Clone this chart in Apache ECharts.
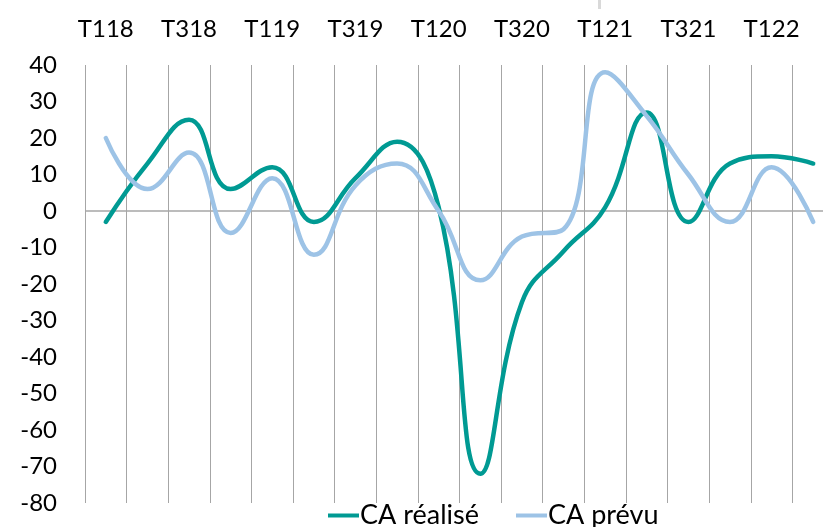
<!DOCTYPE html>
<html>
<head>
<meta charset="utf-8">
<script src="https://cdn.jsdelivr.net/npm/echarts@6/dist/echarts.min.js"></script>
<style>
  html, body { margin: 0; padding: 0; background: #fff; }
  #chart { width: 823px; height: 527px; }
</style>
</head>
<body>
<div id="chart"></div>
<script>
// trimestres (un libellé sur deux affiché)
const categories = ['T118', 'T218', 'T318', 'T418', 'T119', 'T219', 'T319', 'T419', 'T120',
  'T220', 'T320', 'T420', 'T121', 'T221', 'T321', 'T421', 'T122', 'T222']
const caRealise = [-3, 13, 25, 6, 12, -3, 9, 19, 1, -72, -25, -11, 1, 27, -3, 13, 15, 13]
const caPrevu = [20, 6, 16, -6, 9, -12, 7, 13, 0, -19, -7, -5, 38, 26, 10, -3, 12, -3]
const yMin = -80
const yMax = 40
const yStep = 10

const font = 'Lato'
const gridGray = '#A6A6A6'

const myChart = echarts.init(document.getElementById('chart'))

const option = {
  animation: false,
  textStyle: { fontFamily: font },
  // la zone de tracé dépasse à droite, comme dans l'original
  grid: { left: 85, width: 749, top: 65, bottom: 24, containLabel: false, outerBoundsMode: 'none' },
  legend: {
    left: 323,
    top: 497,
    icon: 'rect',
    itemWidth: 31,
    itemHeight: 4,
    itemGap: 37,
    textStyle: { fontFamily: font, fontSize: 27, color: '#000', padding: [0, 0, 0, -4] },
    data: ['CA réalisé', 'CA prévu']
  },
  xAxis: {
    type: 'category',
    position: 'top',
    data: categories,
    boundaryGap: true,
    axisLine: { show: false },
    axisTick: { show: false },
    axisLabel: { interval: 1, fontFamily: font, fontSize: 24, color: '#000', margin: 24 },
    splitLine: { show: true, interval: 0, lineStyle: { color: gridGray, width: 1 } }
  },
  yAxis: {
    type: 'value',
    min: yMin,
    max: yMax,
    interval: yStep,
    axisLine: { show: false },
    axisTick: { show: false },
    splitLine: { show: false },
    axisLabel: { fontFamily: font, fontSize: 24, color: '#000', margin: 28, padding: [4, 0, 0, 0] }
  },
  series: [
    {
      name: 'CA réalisé',
      type: 'line',
      data: caRealise,
      smooth: 0.45,
      symbol: 'none',
      lineStyle: { color: '#009A93', width: 4.5, cap: 'round' },
      itemStyle: { color: '#009A93' },
      z: 3,
      markLine: {
        silent: true,
        symbol: 'none',
        label: { show: false },
        lineStyle: { color: gridGray, width: 1.5, type: 'solid' },
        data: [{ yAxis: 0 }],
        z: 1
      }
    },
    {
      name: 'CA prévu',
      type: 'line',
      data: caPrevu,
      smooth: 0.45,
      symbol: 'none',
      lineStyle: { color: '#9DC3E6', width: 4.5, cap: 'round' },
      itemStyle: { color: '#9DC3E6' },
      z: 4
    }
  ],
  graphic: [
    { type: 'rect', left: 598, top: 0, shape: { width: 3, height: 9 }, style: { fill: '#D9D9D9' } }
  ]
}

myChart.setOption(option)
</script>
</body>
</html>
